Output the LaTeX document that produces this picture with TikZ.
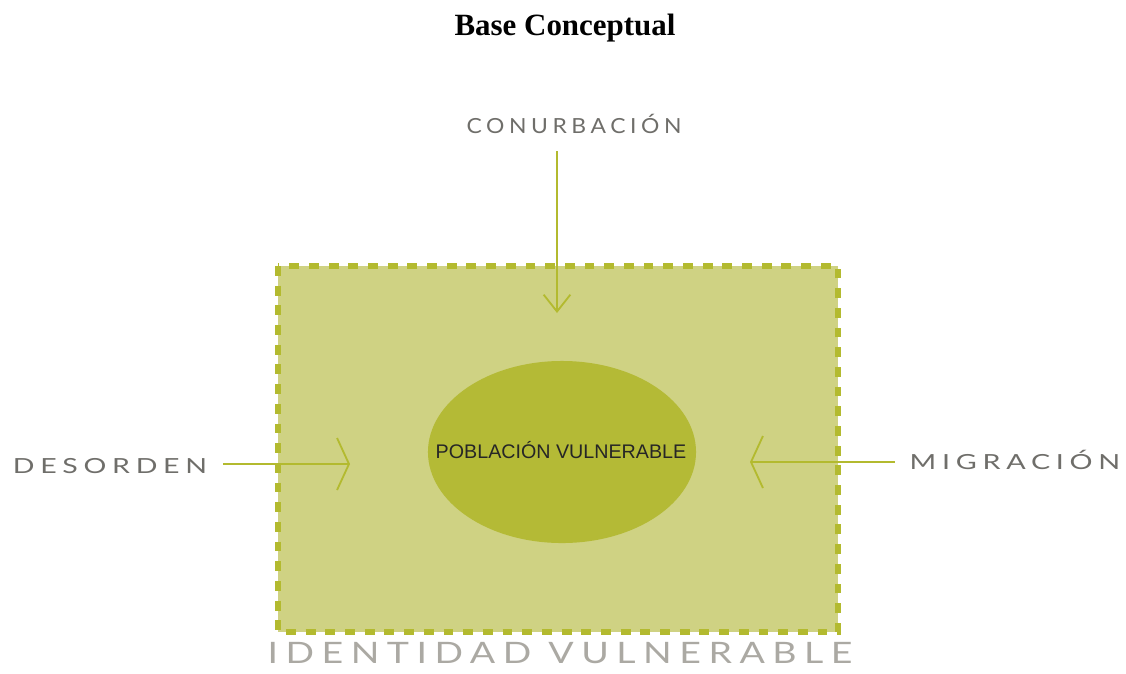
\documentclass[tikz,border=0pt]{standalone}
\usepackage{fontspec}
\setmainfont{Liberation Serif}
\newfontfamily\tagfont{Lato}
\newfontfamily\arialfont{Liberation Sans}
\usetikzlibrary{arrows.meta,shapes.geometric}
\definecolor{boxfill}{RGB}{207,210,131}
\definecolor{boxline}{RGB}{179,186,47}
\definecolor{blobfill}{RGB}{180,186,54}
\definecolor{taggray}{RGB}{111,110,106}
\definecolor{palegray}{RGB}{171,169,163}
\newcommand{\widetag}[2]{\scalebox{#1}[1]{#2}}
\begin{document}
\begin{tikzpicture}[x=0.025cm,y=-0.025cm,
	>={Straight Barb[length=12pt,width=19pt]},
	flow/.style={->,draw=boxline,line width=1.3pt},
	side/.style={>={Straight Barb[length=8.5pt,width=37pt]}},
	tag/.style={text=taggray,font=\tagfont\fontsize{14.8}{16}\selectfont\addfontfeature{LetterSpace=20}}]
	\useasboundingbox (0,0) rectangle (1126,673);
	\node[anchor=base] (title) at (565,35) {\fontsize{22}{26}\selectfont\bfseries Base Conceptual};
	\draw[boxline,fill=boxfill,line width=4pt,dash pattern=on 7pt off 7pt] (278,266) rectangle (838,632);
	\node[ellipse,fill=blobfill,inner sep=0pt,minimum width=6.7cm,minimum height=4.55cm] (pob) at (562,452) {};
	\node[font=\arialfont\fontsize{14}{16}\selectfont,text=black!85] (pobtxt) at (561,450) {POBLACIÓN VULNERABLE};
	% labels around the box
	\node[tag] (conurb) at (574,124) {\widetag{1.1}{CONURBACIÓN}};
	\node[tag] (desorden) at (110,466) {\widetag{1.37}{DESORDEN}};
	\node[tag] (migra) at (1015,460) {\widetag{1.38}{MIGRACIÓN}};
	\node[tag,inner sep=0pt,text=palegray,font=\tagfont\fontsize{21}{23}\selectfont\addfontfeature{LetterSpace=20}] (ident) at (560,653) {\widetag{1.27}{IDENTIDAD VULNERABLE}};
	\coordinate (conurbEnd) at (557,313);
	\coordinate (desEnd) at (350,464);
	\coordinate (migEnd) at (750,462);
	\draw[flow,shorten <=9pt] (conurb.south -| conurbEnd) -- (conurbEnd);
	\draw[flow,side,shorten <=8pt] (desorden.east |- desEnd) -- (desEnd);
	\draw[flow,side,shorten <=7pt] (migra.west |- migEnd) -- (migEnd);
\end{tikzpicture}
\end{document}
